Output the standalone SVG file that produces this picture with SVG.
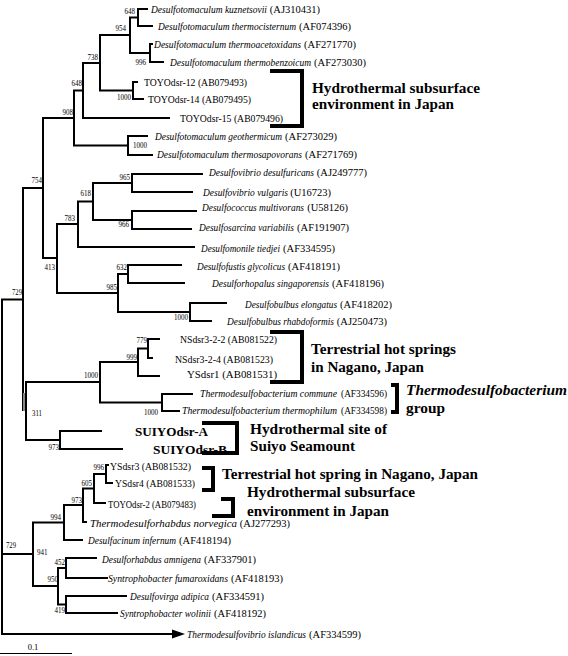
<svg xmlns="http://www.w3.org/2000/svg" width="568" height="656" viewBox="0 0 568 656">
<style>
.br{fill:none;stroke:#000;stroke-width:2}
.bk{fill:none;stroke:#000;stroke-width:4}
.lf{font-family:"Liberation Serif",serif;font-size:10.5px;fill:#000}
.it{font-style:italic;font-size:9.4px}
.ac{text-anchor:end}
.sm{font-size:9.3px}
.bs{font-family:"Liberation Serif",serif;font-size:8.5px;fill:#000}
.an{font-family:"Liberation Serif",serif;font-size:15.2px;font-weight:bold;fill:#000}
.sb{font-family:"Liberation Serif",serif;font-size:12px;font-weight:bold;fill:#000}
</style>
<rect width="568" height="656" fill="#fff"/>
<g id="connectors">
<path class="br" d="M148 9H138V26H153"/>
<path class="br" d="M153 44H150V62H164"/>
<path class="br" d="M138 17.5H130V53H150"/>
<path class="br" d="M138 82H133V99H144"/>
<path class="br" d="M130 35H100V90.5H133"/>
<path class="br" d="M100 63H83V118H170"/>
<path class="br" d="M148 136H128V155H153"/>
<path class="br" d="M83 90.5H74V145.5H128"/>
<path class="br" d="M74 118H43V258H57"/>
<path class="br" d="M203 174H132V192H193"/>
<path class="br" d="M197 211H132V229H192"/>
<path class="br" d="M132 183H93V220H132"/>
<path class="br" d="M93 201.5H78V247H195"/>
<path class="br" d="M182 265H128V283H185"/>
<path class="br" d="M227 303H190V321H212"/>
<path class="br" d="M128 274H118V312H190"/>
<path class="br" d="M78 224H57V293H118"/>
<path class="br" d="M43 188H23V411"/>
<path d="M23 393H26V411H23Z" fill="#888"/>
<path class="br" d="M160 339H148V358H153"/>
<path class="br" d="M148 348.5H138V376H160"/>
<path class="br" d="M193 394H162V411H180"/>
<path class="br" d="M138 362H100V402.5H162"/>
<path class="br" d="M102 431H60V449H123"/>
<path class="br" d="M100 382H26V440H60"/>
<path class="br" d="M23 299.5H2V634H173"/>
<polygon points="172,629.5 185,634 172,638.5" fill="#000"/>
<path class="br" d="M109 465H106V483H113"/>
<path class="br" d="M106 474H94V503H106"/>
<path class="br" d="M94 488.5H83V522H87"/>
<path class="br" d="M83 505H64V540H83"/>
<path class="br" d="M97 558H66V578H108"/>
<path class="br" d="M127 596H66V613H118"/>
<path class="br" d="M66 568H58V604.5H66"/>
<path class="br" d="M64 522.5H33V586H58"/>
<path class="br" d="M2 554H33"/>
</g>
<g id="bootstrap">
<g id="n648a"><text class="bs" x="135" y="14" text-anchor="end" textLength="10.5" lengthAdjust="spacingAndGlyphs">648</text></g>
<g id="n954"><text class="bs" x="126" y="31" text-anchor="end" textLength="10.5" lengthAdjust="spacingAndGlyphs">954</text></g>
<g id="n996a"><text class="bs" x="146" y="65" text-anchor="end" textLength="10.5" lengthAdjust="spacingAndGlyphs">996</text></g>
<g id="n738"><text class="bs" x="98" y="60" text-anchor="end" textLength="10.5" lengthAdjust="spacingAndGlyphs">738</text></g>
<g id="n1000a"><text class="bs" x="131" y="100" text-anchor="end" textLength="14" lengthAdjust="spacingAndGlyphs">1000</text></g>
<g id="n648b"><text class="bs" x="82" y="86" text-anchor="end" textLength="10.5" lengthAdjust="spacingAndGlyphs">648</text></g>
<g id="n908"><text class="bs" x="73" y="115" text-anchor="end" textLength="10.5" lengthAdjust="spacingAndGlyphs">908</text></g>
<g id="n1000b"><text class="bs" x="133" y="148" textLength="14" lengthAdjust="spacingAndGlyphs">1000</text></g>
<g id="n754"><text class="bs" x="42" y="183" text-anchor="end" textLength="10.5" lengthAdjust="spacingAndGlyphs">754</text></g>
<g id="n965"><text class="bs" x="130" y="180" text-anchor="end" textLength="10.5" lengthAdjust="spacingAndGlyphs">965</text></g>
<g id="n618"><text class="bs" x="91" y="196" text-anchor="end" textLength="10.5" lengthAdjust="spacingAndGlyphs">618</text></g>
<g id="n966"><text class="bs" x="129" y="227" text-anchor="end" textLength="10.5" lengthAdjust="spacingAndGlyphs">966</text></g>
<g id="n783"><text class="bs" x="75" y="221" text-anchor="end" textLength="10.5" lengthAdjust="spacingAndGlyphs">783</text></g>
<g id="n413"><text class="bs" x="55" y="270" text-anchor="end" textLength="10.5" lengthAdjust="spacingAndGlyphs">413</text></g>
<g id="n632"><text class="bs" x="127" y="270" text-anchor="end" textLength="10.5" lengthAdjust="spacingAndGlyphs">632</text></g>
<g id="n985"><text class="bs" x="117" y="290" text-anchor="end" textLength="10.5" lengthAdjust="spacingAndGlyphs">985</text></g>
<g id="n729a"><text class="bs" x="22" y="295" text-anchor="end" textLength="10" lengthAdjust="spacingAndGlyphs">729</text></g>
<g id="n1000c"><text class="bs" x="188" y="320" text-anchor="end" textLength="14" lengthAdjust="spacingAndGlyphs">1000</text></g>
<g id="n779"><text class="bs" x="147" y="343" text-anchor="end" textLength="10.5" lengthAdjust="spacingAndGlyphs">779</text></g>
<g id="n999"><text class="bs" x="137" y="360" text-anchor="end" textLength="10.5" lengthAdjust="spacingAndGlyphs">999</text></g>
<g id="n1000d"><text class="bs" x="98" y="378" text-anchor="end" textLength="14" lengthAdjust="spacingAndGlyphs">1000</text></g>
<g id="n311"><text class="bs" x="32" y="416" textLength="10" lengthAdjust="spacingAndGlyphs">311</text></g>
<g id="n1000e"><text class="bs" x="158" y="415" text-anchor="end" textLength="14" lengthAdjust="spacingAndGlyphs">1000</text></g>
<g id="n973a"><text class="bs" x="59" y="450" text-anchor="end" textLength="10.5" lengthAdjust="spacingAndGlyphs">973</text></g>
<g id="n996b"><text class="bs" x="104" y="470" text-anchor="end" textLength="10.5" lengthAdjust="spacingAndGlyphs">996</text></g>
<g id="n605"><text class="bs" x="92" y="486" text-anchor="end" textLength="10.5" lengthAdjust="spacingAndGlyphs">605</text></g>
<g id="n973b"><text class="bs" x="82" y="503" text-anchor="end" textLength="10.5" lengthAdjust="spacingAndGlyphs">973</text></g>
<g id="n994"><text class="bs" x="61" y="520" text-anchor="end" textLength="10.5" lengthAdjust="spacingAndGlyphs">994</text></g>
<g id="n729b"><text class="bs" x="6" y="548" textLength="10" lengthAdjust="spacingAndGlyphs">729</text></g>
<g id="n941"><text class="bs" x="37" y="555" textLength="10.5" lengthAdjust="spacingAndGlyphs">941</text></g>
<g id="n452"><text class="bs" x="65" y="565" text-anchor="end" textLength="10.5" lengthAdjust="spacingAndGlyphs">452</text></g>
<g id="n950"><text class="bs" x="58" y="582" text-anchor="end" textLength="10.5" lengthAdjust="spacingAndGlyphs">950</text></g>
<g id="n419"><text class="bs" x="65" y="613" text-anchor="end" textLength="10.5" lengthAdjust="spacingAndGlyphs">419</text></g>
</g>
<g id="leaves">
<g id="l1"><text class="lf it" x="151" y="12.5" textLength="116" lengthAdjust="spacingAndGlyphs">Desulfotomaculum kuznetsovii</text><text class="lf ac" x="320" y="12.5">(AJ310431)</text></g>
<g id="l2"><text class="lf it" x="158" y="29.5" textLength="138" lengthAdjust="spacingAndGlyphs">Desulfotomaculum thermocisternum</text><text class="lf ac" x="351" y="29.5">(AF074396)</text></g>
<g id="l3"><text class="lf it" x="154" y="47.5" textLength="147" lengthAdjust="spacingAndGlyphs">Desulfotomaculum thermoacetoxidans</text><text class="lf ac" x="356" y="47.5">(AF271770)</text></g>
<g id="l4"><text class="lf it" x="170" y="65.5" textLength="141" lengthAdjust="spacingAndGlyphs">Desulfotomaculum thermobenzoicum</text><text class="lf ac" x="366" y="65.5">(AF273030)</text></g>
<g id="l5"><text class="lf" x="144" y="85.5" textLength="103" lengthAdjust="spacingAndGlyphs">TOYOdsr-12 (AB079493)</text></g>
<g id="l6"><text class="lf" x="148" y="102.5" textLength="103" lengthAdjust="spacingAndGlyphs">TOYOdsr-14 (AB079495)</text></g>
<g id="l7"><text class="lf" x="180" y="121.5" textLength="103" lengthAdjust="spacingAndGlyphs">TOYOdsr-15 (AB079496)</text></g>
<g id="l8"><text class="lf it" x="155" y="139.5" textLength="127" lengthAdjust="spacingAndGlyphs">Desulfotomaculum geothermicum</text><text class="lf ac" x="337" y="139.5">(AF273029)</text></g>
<g id="l9"><text class="lf it" x="157" y="158" textLength="145" lengthAdjust="spacingAndGlyphs">Desulfotomaculum thermosapovorans</text><text class="lf ac" x="357" y="158">(AF271769)</text></g>
<g id="l10"><text class="lf it" x="209" y="176" textLength="105" lengthAdjust="spacingAndGlyphs">Desulfovibrio desulfuricans</text><text class="lf ac" x="367" y="176">(AJ249777)</text></g>
<g id="l11"><text class="lf it" x="203" y="195.5" textLength="85" lengthAdjust="spacingAndGlyphs">Desulfovibrio vulgaris</text><text class="lf ac" x="331" y="195.5">(U16723)</text></g>
<g id="l12"><text class="lf it" x="202" y="211" textLength="102" lengthAdjust="spacingAndGlyphs">Desulfococcus multivorans</text><text class="lf ac" x="348" y="211">(U58126)</text></g>
<g id="l13"><text class="lf it" x="199" y="231" textLength="95" lengthAdjust="spacingAndGlyphs">Desulfosarcina variabilis</text><text class="lf ac" x="349" y="231">(AF191907)</text></g>
<g id="l14"><text class="lf it" x="201" y="251.5" textLength="79" lengthAdjust="spacingAndGlyphs">Desulfomonile tiedjei</text><text class="lf ac" x="335" y="251.5">(AF334595)</text></g>
<g id="l15"><text class="lf it" x="197" y="269.5" textLength="88" lengthAdjust="spacingAndGlyphs">Desulfofustis glycolicus</text><text class="lf ac" x="340" y="269.5">(AF418191)</text></g>
<g id="l16"><text class="lf it" x="212" y="286.5" textLength="117" lengthAdjust="spacingAndGlyphs">Desulforhopalus singaporensis</text><text class="lf ac" x="384" y="286.5">(AF418196)</text></g>
<g id="l17"><text class="lf it" x="245" y="307.5" textLength="92" lengthAdjust="spacingAndGlyphs">Desulfobulbus elongatus</text><text class="lf ac" x="392" y="307.5">(AF418202)</text></g>
<g id="l18"><text class="lf it" x="227" y="324.5" textLength="107" lengthAdjust="spacingAndGlyphs">Desulfobulbus rhabdoformis</text><text class="lf ac" x="387" y="324.5">(AJ250473)</text></g>
<g id="l19"><text class="lf" x="180" y="342.5" textLength="97" lengthAdjust="spacingAndGlyphs">NSdsr3-2-2 (AB081522)</text></g>
<g id="l20"><text class="lf" x="175" y="362.5" textLength="98" lengthAdjust="spacingAndGlyphs">NSdsr3-2-4 (AB081523)</text></g>
<g id="l21"><text class="lf" x="187" y="377.5" textLength="90" lengthAdjust="spacingAndGlyphs">YSdsr1 (AB081531)</text></g>
<g id="l22"><text class="lf it sm" x="200" y="397" textLength="137" lengthAdjust="spacingAndGlyphs">Thermodesulfobacterium commune</text><text class="lf ac sm" x="387" y="397">(AF334596)</text></g>
<g id="l23"><text class="lf it sm" x="182" y="413.5" textLength="155" lengthAdjust="spacingAndGlyphs">Thermodesulfobacterium thermophilum</text><text class="lf ac sm" x="387" y="413.5">(AF334598)</text></g>
<g id="l24"><text class="sb" x="135" y="436" textLength="73" lengthAdjust="spacingAndGlyphs">SUIYOdsr-A</text></g>
<g id="l25"><text class="sb" x="153" y="453.5" textLength="74" lengthAdjust="spacingAndGlyphs">SUIYOdsr-B</text></g>
<g id="l26"><text class="lf" x="110" y="469.5" textLength="81" lengthAdjust="spacingAndGlyphs">YSdsr3 (AB081532)</text></g>
<g id="l27"><text class="lf" x="115" y="486.5" textLength="80" lengthAdjust="spacingAndGlyphs">YSdsr4 (AB081533)</text></g>
<g id="l28"><text class="lf" x="108" y="507.5" textLength="88" lengthAdjust="spacingAndGlyphs">TOYOdsr-2 (AB079483)</text></g>
<g id="l29"><text class="lf it" x="90" y="526.5" textLength="147" lengthAdjust="spacingAndGlyphs">Thermodesulforhabdus norvegica</text><text class="lf ac" x="290" y="526.5">(AJ277293)</text></g>
<g id="l30"><text class="lf it" x="88" y="543.5" textLength="88" lengthAdjust="spacingAndGlyphs">Desulfacinum infernum</text><text class="lf ac" x="231" y="543.5">(AF418194)</text></g>
<g id="l31"><text class="lf it" x="102" y="562.5" textLength="99" lengthAdjust="spacingAndGlyphs">Desulforhabdus amnigena</text><text class="lf ac" x="256" y="562.5">(AF337901)</text></g>
<g id="l32"><text class="lf it" x="108" y="581.5" textLength="120" lengthAdjust="spacingAndGlyphs">Syntrophobacter fumaroxidans</text><text class="lf ac" x="283" y="581.5">(AF418193)</text></g>
<g id="l33"><text class="lf it" x="130" y="599.5" textLength="79" lengthAdjust="spacingAndGlyphs">Desulfovirga adipica</text><text class="lf ac" x="264" y="599.5">(AF334591)</text></g>
<g id="l34"><text class="lf it" x="120" y="616.5" textLength="91" lengthAdjust="spacingAndGlyphs">Syntrophobacter wolinii</text><text class="lf ac" x="266" y="616.5">(AF418192)</text></g>
<g id="l35"><text class="lf it" x="187" y="637.5" textLength="119" lengthAdjust="spacingAndGlyphs">Thermodesulfovibrio islandicus</text><text class="lf ac" x="361" y="637.5">(AF334599)</text></g>
</g>
<g id="groups">
<g id="grp-hydro1"><path class="bk" d="M270 71H302V126H270"/>
<text class="an" x="312" y="93" textLength="168" lengthAdjust="spacingAndGlyphs">Hydrothermal subsurface</text>
<text class="an" x="312" y="109" textLength="142" lengthAdjust="spacingAndGlyphs">environment in Japan</text></g>
<g id="grp-nagano"><path class="bk" d="M270 332H302V382H270"/>
<text class="an" x="311" y="354" textLength="145" lengthAdjust="spacingAndGlyphs">Terrestrial hot springs</text>
<text class="an" x="311" y="372" textLength="113" lengthAdjust="spacingAndGlyphs">in Nagano, Japan</text></g>
<g id="grp-thermo"><path class="bk" d="M391 385H397V412H391"/>
<text class="an" x="406" y="395" font-style="italic" textLength="161" lengthAdjust="spacingAndGlyphs">Thermodesulfobacterium</text>
<text class="an" x="406" y="412.5" textLength="39" lengthAdjust="spacingAndGlyphs">group</text></g>
<g id="grp-suiyo"><path class="bk" d="M202 423H237V453H202"/>
<text class="an" x="250" y="434" textLength="137" lengthAdjust="spacingAndGlyphs">Hydrothermal site of</text>
<text class="an" x="250" y="451" textLength="105" lengthAdjust="spacingAndGlyphs">Suiyo Seamount</text></g>
<g id="grp-nagano2"><path class="bk" d="M202 468H213V490H202"/>
<text class="an" x="222" y="479" textLength="256" lengthAdjust="spacingAndGlyphs">Terrestrial hot spring in Nagano, Japan</text></g>
<g id="grp-hydro2"><path class="bk" d="M221 499H233V516H212"/>
<text class="an" x="247" y="497" textLength="168" lengthAdjust="spacingAndGlyphs">Hydrothermal subsurface</text>
<text class="an" x="247" y="516" textLength="142" lengthAdjust="spacingAndGlyphs">environment in Japan</text></g>
</g>
<g id="scale">
<text class="bs" x="33" y="650" text-anchor="middle">0.1</text>
<path d="M0 653.5H72" stroke="#000" stroke-width="1"/>
</g>
</svg>
